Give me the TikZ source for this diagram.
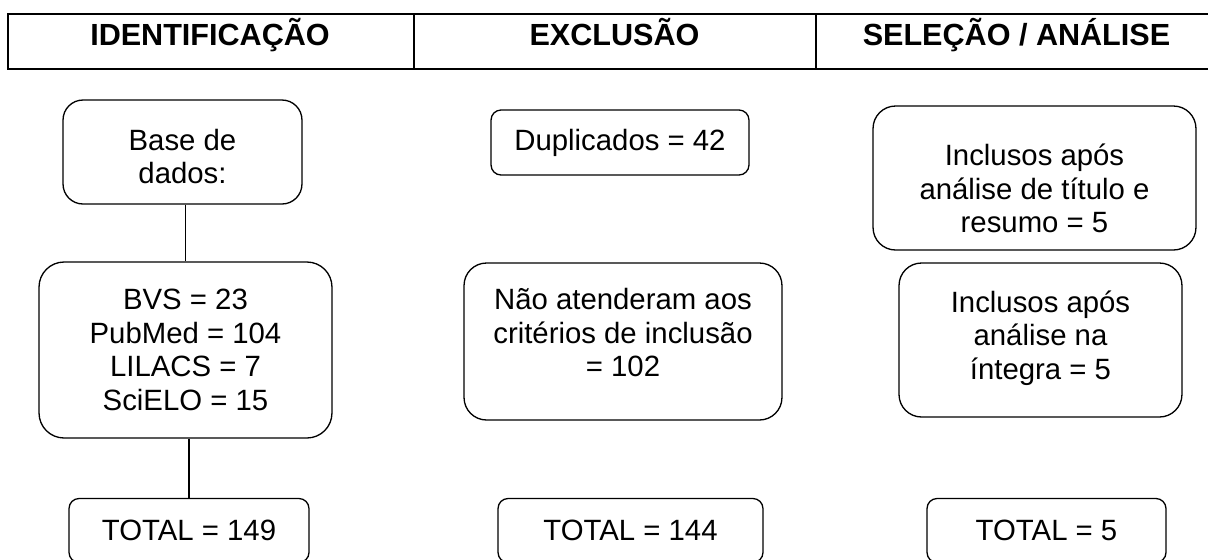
\documentclass[tikz,border=0pt]{standalone}
\usepackage{fontspec}
\setmainfont{Liberation Sans}
\usepackage{tikz}
\usepackage{xcolor}

\newcommand{\padtop}[1]{\rule{0pt}{#1}}
\newcommand{\padbot}[1]{\rule[-#1]{0pt}{0pt}}

\tikzset{
    stage/.style={draw, line width=0.75pt, rounded corners=0.45cm, align=center,
        inner sep=0pt, font=\fontsize{16.7}{19.1}\selectfont},
    tally/.style={stage, rounded corners=0.2cm},
    head/.style={font=\fontsize{17.4}{20}\bfseries\selectfont, inner sep=0pt, anchor=base}
}

\begin{document}
\begin{tikzpicture}[x=0.02cm,y=-0.02cm]
    \useasboundingbox (0,0) rectangle (1208,559);
    \clip (0,0) rectangle (1208,559);
    % header
    \draw[line width=1.3pt] (8,14) rectangle (1240,69);
    \draw[line width=1.3pt] (414,14) -- (414,69);
    \draw[line width=1.3pt] (816,14) -- (816,69);
    \node[head] (hid)  at (210,45)    {IDENTIFICAÇÃO};
    \node[head] (hexc) at (614.5,45)  {EXCLUSÃO};
    \node[head] (hsel) at (1016.5,45) {SELEÇÃO / ANÁLISE};
    % identificacao
    \node[stage, rounded corners=0.4cm, minimum width=4.78cm, minimum height=2.08cm]
        (base) at (182.5,152) {\padtop{0.6cm}Base de\\dados:};
    \node[stage, rounded corners=0.5cm, minimum width=5.86cm, minimum height=3.52cm]
        (bvs) at (185.5,350) {BVS = 23\\PubMed = 104\\LILACS = 7\\SciELO = 15};
    \node[tally, minimum width=4.8cm, minimum height=1.28cm]
        (tot1) at (189,530.5) {TOTAL = 149};
    % exclusao
    \node[tally, minimum width=5.16cm, minimum height=1.3cm]
        (dup) at (620,142.5) {Duplicados = 42};
    \node[stage, minimum width=6.36cm, minimum height=3.14cm]
        (nao) at (623,341.5) {Não atenderam aos\\critérios de inclusão\\= 102\padbot{0.36cm}};
    \node[tally, minimum width=5.3cm, minimum height=1.28cm]
        (tot2) at (630.5,530.5) {TOTAL = 144};
    % selecao
    \node[stage, minimum width=6.46cm, minimum height=2.88cm]
        (inc1) at (1034.5,178) {\padtop{0.85cm}Inclusos após\\análise de título e\\resumo = 5};
    \node[stage, minimum width=5.66cm, minimum height=3.08cm]
        (inc2) at (1040.5,340) {Inclusos após\\análise na\\íntegra = 5\padbot{0.2cm}};
    \node[tally, minimum width=4.78cm, minimum height=1.28cm]
        (tot3) at (1046.5,530.5) {TOTAL = 5};
    % connectors
    \draw[line width=0.75pt] (base.south -| bvs.north) -- (bvs.north);
    \draw[line width=0.75pt] (bvs.south -| tot1.north) -- (tot1.north);
\end{tikzpicture}
\end{document}
